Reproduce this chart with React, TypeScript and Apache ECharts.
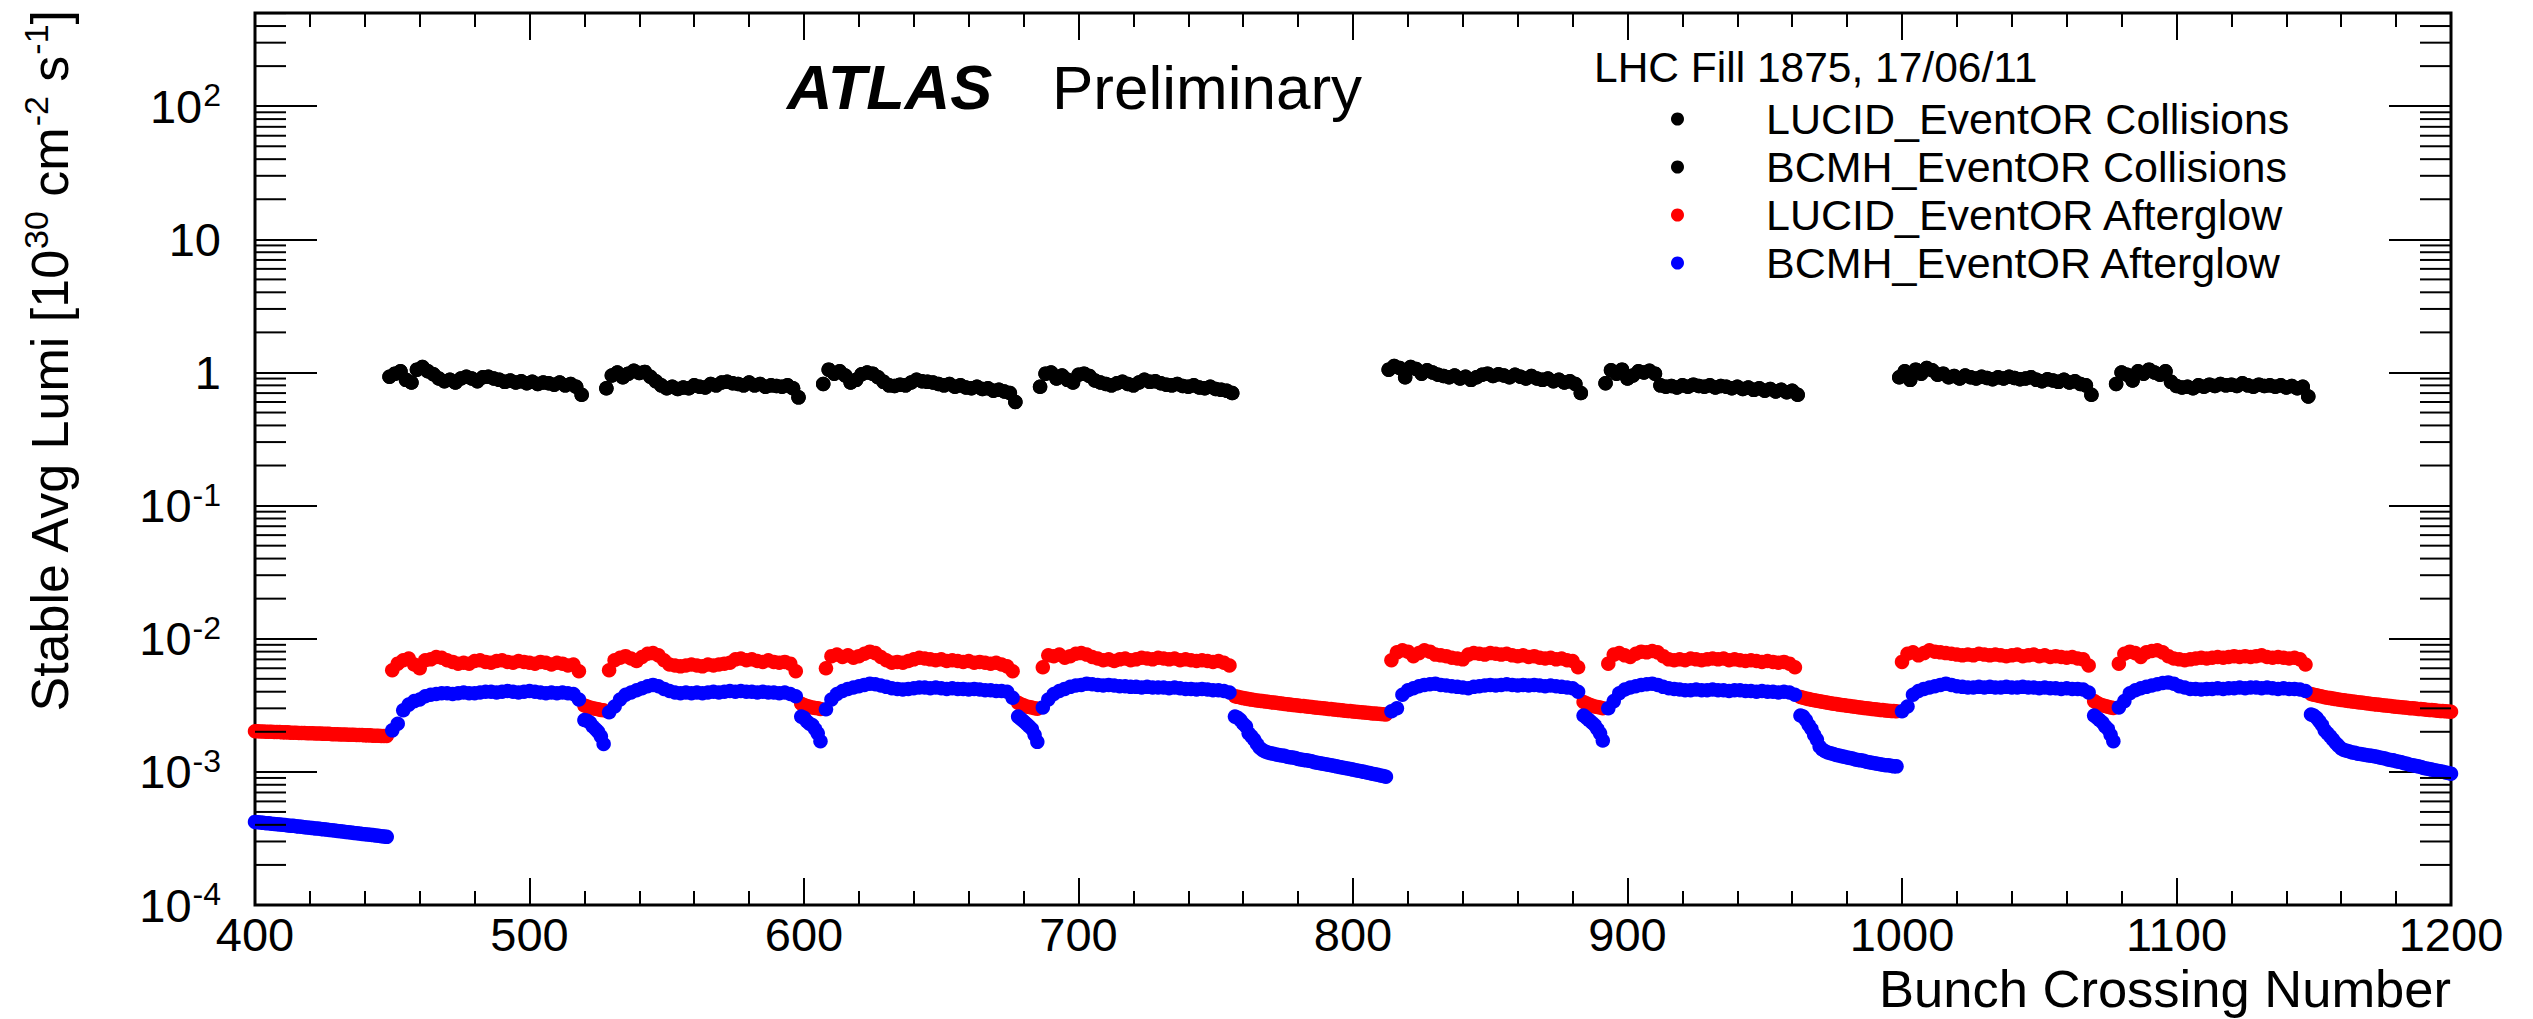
import React, { useEffect, useRef } from 'react';
import * as echarts from 'echarts';

const FONT = '"Liberation Sans", Arial, Helvetica, sans-serif';

// ---- axes ----
const X_MIN = 400;
const X_MAX = 1200;
const X_STEP = 100;
const Y_MIN = 1e-4;
const Y_MAX = 501.187;
const Y_MINOR_TICKS = [
  2e-4, 3e-4, 4e-4, 5e-4, 6e-4, 7e-4, 8e-4, 9e-4,
  2e-3, 3e-3, 4e-3, 5e-3, 6e-3, 7e-3, 8e-3, 9e-3,
  0.02, 0.03, 0.04, 0.05, 0.06, 0.07, 0.08, 0.09,
  0.2, 0.3, 0.4, 0.5, 0.6, 0.7, 0.8, 0.9,
  2, 3, 4, 5, 6, 7, 8, 9,
  20, 30, 40, 50, 60, 70, 80, 90,
  200, 300, 400, 500,
];

const SERIES_NAMES = [
  'LUCID_EventOR Collisions',
  'BCMH_EventOR Collisions',
  'LUCID_EventOR Afterglow',
  'BCMH_EventOR Afterglow',
];

// ---- filling scheme (BCID of first bunch of each 36-bunch train, 50 ns spacing) ----
const TRAIN_STARTS = [449, 528, 607, 686, 813, 892, 999, 1078];
const BUNCH_SPACING = 2;
// first BCID of each run of consecutive empty bunch crossings between trains
const GAP_STARTS = [400, 520, 599, 678, 757, 884, 963, 1070, 1149];

// ---- collisions (10^30 cm^-2 s^-1), one value per colliding bunch ----
const COLL_T1 = [0.93, 0.98, 1.02, 0.88, 0.84, 1.05, 1.10, 1.02, 0.97, 0.90, 0.86, 0.88, 0.84, 0.90, 0.93, 0.90, 0.86, 0.92, 0.93, 0.90, 0.88, 0.85, 0.87, 0.84, 0.86, 0.83, 0.85, 0.82, 0.84, 0.83, 0.81, 0.84, 0.80, 0.82, 0.78, 0.68];
const COLL_T2 = [0.76, 0.95, 1.00, 0.92, 0.98, 1.03, 0.99, 1.01, 0.93, 0.86, 0.80, 0.76, 0.78, 0.75, 0.77, 0.76, 0.80, 0.78, 0.77, 0.82, 0.80, 0.84, 0.85, 0.83, 0.82, 0.80, 0.84, 0.80, 0.82, 0.78, 0.80, 0.79, 0.78, 0.80, 0.76, 0.65];
const COLL_T3 = [0.82, 1.05, 0.98, 1.02, 0.95, 0.84, 0.88, 0.97, 1.00, 0.98, 0.92, 0.85, 0.80, 0.79, 0.81, 0.80, 0.84, 0.88, 0.86, 0.85, 0.84, 0.82, 0.80, 0.82, 0.78, 0.80, 0.77, 0.76, 0.78, 0.75, 0.76, 0.73, 0.74, 0.72, 0.70, 0.60];
const COLL_T4 = [0.78, 0.98, 1.00, 0.90, 0.95, 0.88, 0.84, 0.96, 0.98, 0.94, 0.87, 0.84, 0.82, 0.80, 0.83, 0.85, 0.82, 0.80, 0.84, 0.88, 0.85, 0.86, 0.83, 0.81, 0.80, 0.82, 0.79, 0.78, 0.80, 0.77, 0.76, 0.78, 0.75, 0.74, 0.73, 0.70];
const COLL_T5 = [1.05, 1.12, 1.08, 0.92, 1.10, 1.06, 0.98, 1.04, 1.00, 0.96, 0.94, 0.92, 0.95, 0.90, 0.93, 0.88, 0.92, 0.96, 0.98, 0.94, 0.97, 0.95, 0.92, 0.96, 0.93, 0.90, 0.94, 0.90, 0.88, 0.90, 0.86, 0.88, 0.84, 0.86, 0.82, 0.70];
const COLL_T6 = [0.83, 1.04, 0.98, 1.05, 0.90, 0.95, 1.02, 1.00, 1.03, 0.98, 0.80, 0.78, 0.79, 0.77, 0.80, 0.78, 0.81, 0.79, 0.78, 0.80, 0.77, 0.79, 0.78, 0.76, 0.78, 0.75, 0.77, 0.74, 0.76, 0.73, 0.75, 0.72, 0.74, 0.71, 0.73, 0.68];
const COLL_T7 = [0.92, 1.02, 0.88, 1.05, 0.98, 1.08, 1.04, 0.96, 0.98, 0.92, 0.94, 0.90, 0.95, 0.92, 0.90, 0.93, 0.91, 0.89, 0.92, 0.90, 0.93, 0.91, 0.89, 0.90, 0.92, 0.88, 0.86, 0.89, 0.87, 0.85, 0.88, 0.84, 0.86, 0.82, 0.80, 0.68];
const COLL_T8 = [0.82, 1.00, 0.96, 0.87, 1.02, 0.98, 1.05, 1.00, 0.96, 1.02, 0.85, 0.79, 0.77, 0.78, 0.76, 0.80, 0.78, 0.81, 0.79, 0.82, 0.80, 0.81, 0.79, 0.83, 0.80, 0.78, 0.81, 0.79, 0.80, 0.78, 0.80, 0.77, 0.79, 0.76, 0.78, 0.66];
const COLL_TRAINS = [COLL_T1, COLL_T2, COLL_T3, COLL_T4, COLL_T5, COLL_T6, COLL_T7, COLL_T8];

// ---- afterglow, in units of 1e-3 ----
const AFTERGLOW_UNIT = 1e-3;

// LUCID afterglow, empty crossings inside trains
const RED_T1 = [5.8, 6.5, 6.9, 7.1, 6.4, 6.0, 6.9, 7.0, 7.3, 7.2, 6.9, 6.7, 6.5, 6.6, 6.5, 6.8, 6.9, 6.7, 6.6, 6.8, 6.9, 6.7, 6.6, 6.8, 6.7, 6.6, 6.5, 6.7, 6.6, 6.4, 6.6, 6.5, 6.3, 6.4, 5.7];
const RED_T2 = [5.8, 6.9, 7.2, 7.4, 7.1, 6.8, 7.3, 7.7, 7.8, 7.5, 6.9, 6.4, 6.3, 6.2, 6.3, 6.4, 6.3, 6.2, 6.4, 6.3, 6.4, 6.5, 6.6, 7.0, 7.1, 6.9, 7.0, 6.8, 6.7, 6.9, 6.7, 6.6, 6.7, 6.5, 5.7];
const RED_T3 = [6.0, 7.4, 7.6, 7.3, 7.5, 7.2, 7.4, 7.7, 8.0, 7.8, 7.3, 6.9, 6.6, 6.7, 6.6, 6.8, 7.0, 7.2, 7.1, 7.0, 6.9, 7.0, 6.8, 6.9, 6.8, 6.7, 6.8, 6.6, 6.7, 6.6, 6.5, 6.6, 6.4, 6.2, 5.7];
const RED_T4 = [6.1, 7.5, 7.4, 7.6, 7.2, 7.4, 7.7, 7.8, 7.6, 7.3, 7.1, 6.9, 7.0, 6.8, 7.0, 7.1, 6.9, 7.0, 7.2, 7.1, 7.0, 7.2, 7.1, 7.0, 7.1, 6.9, 7.0, 6.9, 6.8, 6.9, 6.8, 6.7, 6.8, 6.6, 6.3];
const RED_T5 = [6.9, 7.9, 8.2, 8.0, 7.4, 7.8, 8.2, 8.0, 7.6, 7.5, 7.4, 7.2, 7.1, 7.0, 7.6, 7.8, 7.7, 7.6, 7.8, 7.7, 7.6, 7.7, 7.5, 7.4, 7.5, 7.3, 7.4, 7.2, 7.1, 7.2, 7.0, 7.1, 6.9, 6.8, 6.1];
const RED_T6 = [6.5, 7.6, 7.8, 7.5, 7.3, 7.7, 8.0, 7.9, 8.1, 7.9, 7.4, 7.0, 6.9, 7.0, 6.9, 7.1, 7.0, 6.9, 7.0, 7.1, 7.0, 7.1, 6.9, 7.0, 6.9, 6.8, 6.9, 6.8, 6.7, 6.8, 6.7, 6.6, 6.7, 6.5, 6.1];
const RED_T7 = [6.7, 7.7, 7.9, 7.5, 7.8, 8.2, 8.0, 7.9, 7.8, 7.7, 7.6, 7.5, 7.6, 7.5, 7.7, 7.6, 7.5, 7.6, 7.5, 7.4, 7.5, 7.6, 7.4, 7.5, 7.6, 7.4, 7.5, 7.3, 7.4, 7.3, 7.2, 7.3, 7.1, 7.0, 6.3];
const RED_T8 = [6.5, 7.7, 8.0, 7.8, 7.3, 7.9, 8.1, 8.2, 7.9, 7.4, 7.1, 7.0, 6.9, 7.0, 7.1, 7.2, 7.1, 7.2, 7.3, 7.2, 7.3, 7.4, 7.3, 7.4, 7.3, 7.4, 7.5, 7.3, 7.2, 7.3, 7.2, 7.1, 7.2, 7.0, 6.4];
const RED_TRAINS = [RED_T1, RED_T2, RED_T3, RED_T4, RED_T5, RED_T6, RED_T7, RED_T8];

// LUCID afterglow, gaps between trains
const RED_G0 = [2.02, 2.02, 2.01, 2.01, 2.00, 2.00, 2.00, 1.99, 1.99, 1.99, 1.98, 1.98, 1.98, 1.97, 1.97, 1.97, 1.96, 1.96, 1.96, 1.95, 1.95, 1.95, 1.94, 1.94, 1.94, 1.93, 1.93, 1.93, 1.92, 1.92, 1.92, 1.91, 1.91, 1.91, 1.90, 1.90, 1.90, 1.89, 1.89, 1.89, 1.88, 1.88, 1.88, 1.87, 1.87, 1.87, 1.86, 1.86, 1.86];
const RED_G1 = [3.15, 3.10, 3.05, 3.00, 2.98, 2.95, 2.92, 2.90];
const RED_G2 = [3.25, 3.18, 3.12, 3.08, 3.05, 3.02, 3.00, 2.97];
const RED_G3 = [3.30, 3.22, 3.16, 3.10, 3.07, 3.04, 3.01, 2.98];
const RED_G4 = [3.70, 3.66, 3.62, 3.58, 3.55, 3.52, 3.49, 3.46, 3.44, 3.42, 3.40, 3.38, 3.36, 3.34, 3.32, 3.30, 3.28, 3.26, 3.24, 3.22, 3.20, 3.18, 3.17, 3.15, 3.13, 3.12, 3.10, 3.08, 3.07, 3.05, 3.03, 3.02, 3.00, 2.99, 2.97, 2.96, 2.94, 2.93, 2.91, 2.90, 2.88, 2.87, 2.86, 2.84, 2.83, 2.82, 2.80, 2.79, 2.78, 2.77, 2.75, 2.74, 2.73, 2.72, 2.71, 2.70];
const RED_G5 = [3.35, 3.27, 3.20, 3.15, 3.10, 3.07, 3.04, 3.00];
const RED_G6 = [3.65, 3.60, 3.56, 3.52, 3.48, 3.45, 3.42, 3.39, 3.36, 3.33, 3.30, 3.28, 3.25, 3.23, 3.20, 3.18, 3.16, 3.14, 3.12, 3.10, 3.08, 3.06, 3.04, 3.02, 3.00, 2.99, 2.97, 2.95, 2.94, 2.92, 2.91, 2.89, 2.88, 2.87, 2.86, 2.85];
const RED_G7 = [3.40, 3.30, 3.22, 3.17, 3.12, 3.08, 3.05, 3.02];
const RED_G8 = [3.85, 3.80, 3.76, 3.72, 3.68, 3.64, 3.61, 3.58, 3.55, 3.52, 3.50, 3.47, 3.45, 3.42, 3.40, 3.38, 3.36, 3.34, 3.32, 3.30, 3.28, 3.26, 3.24, 3.22, 3.20, 3.19, 3.17, 3.15, 3.14, 3.12, 3.10, 3.09, 3.07, 3.06, 3.04, 3.03, 3.01, 3.00, 2.99, 2.97, 2.96, 2.95, 2.93, 2.92, 2.91, 2.90, 2.88, 2.87, 2.86, 2.85, 2.84, 2.83];
const RED_GAPS = [RED_G0, RED_G1, RED_G2, RED_G3, RED_G4, RED_G5, RED_G6, RED_G7, RED_G8];

// BCMH afterglow, empty crossings inside trains
const BLUE_T1 = [2.05, 2.3, 2.9, 3.2, 3.4, 3.5, 3.7, 3.8, 3.85, 3.9, 3.9, 3.85, 3.9, 3.95, 3.9, 3.9, 3.95, 4.0, 4.0, 3.95, 4.0, 4.05, 4.0, 3.95, 4.0, 4.05, 4.0, 3.95, 3.9, 3.95, 3.9, 3.95, 3.9, 3.85, 3.5];
const BLUE_T2 = [2.8, 3.1, 3.5, 3.8, 3.95, 4.1, 4.25, 4.4, 4.5, 4.4, 4.2, 4.05, 3.95, 3.9, 3.95, 3.9, 3.95, 3.9, 3.95, 4.0, 3.95, 4.0, 4.05, 4.0, 4.05, 4.0, 4.0, 3.95, 4.0, 3.95, 3.95, 3.9, 3.95, 3.85, 3.7];
const BLUE_T3 = [2.95, 3.5, 3.85, 4.05, 4.2, 4.3, 4.4, 4.5, 4.6, 4.55, 4.45, 4.35, 4.25, 4.2, 4.15, 4.2, 4.25, 4.3, 4.3, 4.25, 4.3, 4.25, 4.2, 4.25, 4.2, 4.2, 4.15, 4.2, 4.15, 4.1, 4.1, 4.05, 4.05, 4.0, 3.6];
const BLUE_T4 = [3.05, 3.5, 3.85, 4.05, 4.2, 4.35, 4.45, 4.5, 4.6, 4.55, 4.5, 4.45, 4.5, 4.45, 4.4, 4.4, 4.35, 4.35, 4.3, 4.35, 4.3, 4.3, 4.3, 4.25, 4.3, 4.25, 4.2, 4.2, 4.15, 4.2, 4.15, 4.1, 4.1, 4.05, 3.95];
const BLUE_T5 = [2.85, 3.0, 3.8, 4.1, 4.25, 4.4, 4.5, 4.55, 4.6, 4.5, 4.45, 4.4, 4.35, 4.3, 4.25, 4.35, 4.4, 4.45, 4.5, 4.45, 4.5, 4.55, 4.5, 4.45, 4.5, 4.45, 4.5, 4.45, 4.4, 4.45, 4.4, 4.35, 4.3, 4.25, 4.0];
const BLUE_T6 = [3.0, 3.4, 3.9, 4.15, 4.3, 4.4, 4.5, 4.55, 4.6, 4.5, 4.35, 4.25, 4.2, 4.15, 4.1, 4.1, 4.15, 4.1, 4.1, 4.15, 4.1, 4.1, 4.05, 4.1, 4.1, 4.05, 4.05, 4.0, 4.05, 4.0, 4.0, 3.95, 4.0, 3.95, 3.8];
const BLUE_T7 = [2.85, 3.1, 3.8, 4.05, 4.2, 4.3, 4.4, 4.5, 4.6, 4.5, 4.4, 4.35, 4.3, 4.3, 4.35, 4.3, 4.35, 4.3, 4.3, 4.35, 4.3, 4.3, 4.35, 4.3, 4.3, 4.25, 4.3, 4.25, 4.25, 4.2, 4.25, 4.2, 4.2, 4.15, 3.95];
const BLUE_T8 = [3.05, 3.4, 3.9, 4.1, 4.25, 4.35, 4.45, 4.55, 4.65, 4.7, 4.6, 4.4, 4.3, 4.2, 4.2, 4.15, 4.2, 4.2, 4.25, 4.2, 4.25, 4.25, 4.3, 4.25, 4.3, 4.3, 4.25, 4.3, 4.25, 4.2, 4.25, 4.2, 4.2, 4.15, 4.05];
const BLUE_TRAINS = [BLUE_T1, BLUE_T2, BLUE_T3, BLUE_T4, BLUE_T5, BLUE_T6, BLUE_T7, BLUE_T8];

// BCMH afterglow, gaps between trains
const BLUE_G0 = [0.421, 0.418, 0.417, 0.414, 0.412, 0.411, 0.408, 0.406, 0.405, 0.402, 0.400, 0.399, 0.396, 0.394, 0.393, 0.390, 0.388, 0.387, 0.384, 0.382, 0.381, 0.378, 0.376, 0.375, 0.372, 0.370, 0.369, 0.366, 0.364, 0.363, 0.360, 0.358, 0.357, 0.354, 0.352, 0.351, 0.348, 0.346, 0.345, 0.342, 0.340, 0.339, 0.337, 0.335, 0.333, 0.331, 0.329, 0.327, 0.325];
const BLUE_G1 = [2.45, 2.42, 2.35, 2.20, 2.10, 2.00, 1.85, 1.62];
const BLUE_G2 = [2.60, 2.55, 2.40, 2.30, 2.25, 2.10, 1.95, 1.70];
const BLUE_G3 = [2.60, 2.50, 2.40, 2.30, 2.20, 2.10, 1.90, 1.68];
const BLUE_G4 = [2.60, 2.55, 2.45, 2.30, 2.20, 1.95, 1.85, 1.75, 1.62, 1.52, 1.46, 1.42, 1.40, 1.38, 1.37, 1.35, 1.34, 1.33, 1.32, 1.30, 1.29, 1.28, 1.27, 1.25, 1.24, 1.23, 1.22, 1.21, 1.20, 1.18, 1.17, 1.16, 1.15, 1.14, 1.13, 1.12, 1.11, 1.10, 1.09, 1.08, 1.07, 1.06, 1.05, 1.04, 1.03, 1.02, 1.01, 1.00, 0.99, 0.98, 0.97, 0.96, 0.95, 0.94, 0.93, 0.92];
const BLUE_G5 = [2.65, 2.55, 2.45, 2.35, 2.25, 2.10, 1.95, 1.72];
const BLUE_G6 = [2.65, 2.60, 2.45, 2.25, 2.10, 1.90, 1.75, 1.55, 1.47, 1.43, 1.40, 1.38, 1.36, 1.34, 1.33, 1.31, 1.30, 1.28, 1.27, 1.26, 1.24, 1.23, 1.22, 1.21, 1.19, 1.18, 1.17, 1.16, 1.15, 1.14, 1.13, 1.12, 1.12, 1.11, 1.10, 1.10];
const BLUE_G7 = [2.65, 2.55, 2.45, 2.35, 2.20, 2.10, 1.90, 1.70];
const BLUE_G8 = [2.70, 2.65, 2.55, 2.40, 2.25, 2.05, 1.95, 1.85, 1.75, 1.65, 1.57, 1.50, 1.46, 1.44, 1.42, 1.40, 1.39, 1.37, 1.36, 1.35, 1.34, 1.33, 1.32, 1.31, 1.30, 1.28, 1.27, 1.26, 1.24, 1.23, 1.22, 1.20, 1.19, 1.18, 1.16, 1.15, 1.13, 1.12, 1.11, 1.10, 1.09, 1.07, 1.06, 1.05, 1.04, 1.03, 1.02, 1.01, 1.00, 0.99, 0.98, 0.97];
const BLUE_GAPS = [BLUE_G0, BLUE_G1, BLUE_G2, BLUE_G3, BLUE_G4, BLUE_G5, BLUE_G6, BLUE_G7, BLUE_G8];

// ---- build [BCID, value] pairs ----
function collisionPoints(): number[][] {
  const pts: number[][] = [];
  TRAIN_STARTS.forEach((s, t) => {
    COLL_TRAINS[t].forEach((v, k) => pts.push([s + BUNCH_SPACING * k, v]));
  });
  return pts;
}

function afterglowPoints(trains: number[][], gaps: number[][]): number[][] {
  const pts: number[][] = [];
  GAP_STARTS.forEach((g, i) => {
    gaps[i].forEach((v, k) => pts.push([g + k, v * AFTERGLOW_UNIT]));
  });
  TRAIN_STARTS.forEach((s, t) => {
    trains[t].forEach((v, k) => pts.push([s + 1 + BUNCH_SPACING * k, v * AFTERGLOW_UNIT]));
  });
  pts.sort((a, b) => a[0] - b[0]);
  return pts;
}

const COLORS = ['#000000', '#000000', '#ff0000', '#0000ff'];

function yLabel(v: number): string {
  const e = Math.log10(v);
  const r = Math.round(e);
  if (Math.abs(e - r) > 1e-6) return '';
  if (r === 0) return '{m|1}';
  if (r === 1) return '{m|10}';
  return '{m|10}{s|' + r + '}';
}

export default function App() {
  const ref = useRef<HTMLDivElement>(null);

  useEffect(() => {
    if (!ref.current) return;
    const chart = echarts.init(ref.current, null, { renderer: 'svg' });

    const coll = collisionPoints();
    const red = afterglowPoints(RED_TRAINS, RED_GAPS);
    const blue = afterglowPoints(BLUE_TRAINS, BLUE_GAPS);

    const tickLine = { color: '#000', width: 2 };

    const scatter = (name: string, data: number[][], color: string) => ({
      name,
      type: 'scatter',
      data,
      symbol: 'circle',
      symbolSize: 14.5,
      itemStyle: { color, opacity: 1 },
      clip: false,
      silent: true,
      emphasis: { disabled: true },
    });

    const option: any = {
      animation: false,
      backgroundColor: '#ffffff',
      grid: {
        left: 255,
        top: 13,
        width: 2196,
        height: 892,
        show: true,
        borderColor: '#000',
        borderWidth: 3,
        backgroundColor: 'transparent',
        containLabel: false,
        outerBoundsMode: 'none',
      },
      legend: {
        orient: 'vertical',
        left: 1671,
        top: 95,
        padding: 0,
        itemGap: 0,
        itemWidth: 13,
        itemHeight: 13,
        icon: 'circle',
        selectedMode: false,
        data: SERIES_NAMES,
        textStyle: {
          fontSize: 43,
          fontFamily: FONT,
          color: '#000',
          lineHeight: 48,
          padding: [0, 0, 0, 77],
        },
      },
      xAxis: [
        {
          type: 'value',
          position: 'bottom',
          min: X_MIN,
          max: X_MAX,
          interval: X_STEP,
          axisLine: { show: false },
          splitLine: { show: false },
          axisTick: { show: true, inside: true, length: 27, lineStyle: tickLine },
          minorTick: { show: true, splitNumber: 5, length: 14, lineStyle: tickLine },
          axisLabel: {
            fontSize: 47,
            lineHeight: 42,
            fontFamily: FONT,
            color: '#000',
            margin: 8,
            formatter: (v: number) => String(v),
          },
        },
        {
          type: 'value',
          position: 'top',
          min: X_MIN,
          max: X_MAX,
          interval: X_STEP,
          axisLine: { show: false },
          splitLine: { show: false },
          axisTick: { show: true, inside: true, length: 27, lineStyle: tickLine },
          minorTick: { show: true, splitNumber: 5, length: 14, lineStyle: tickLine },
          axisLabel: { show: false },
        },
      ],
      yAxis: [
        {
          type: 'log',
          logBase: 10,
          position: 'left',
          min: Y_MIN,
          max: Y_MAX,
          axisLine: { show: false },
          splitLine: { show: false },
          axisTick: { show: true, inside: true, length: 62, lineStyle: tickLine },
          axisLabel: {
            margin: 34,
            showMaxLabel: false,
            formatter: yLabel,
            rich: {
              m: { fontSize: 47, fontFamily: FONT, color: '#000' },
              s: { fontSize: 32, fontFamily: FONT, color: '#000', padding: [0, 0, 22, 1] },
            },
          },
        },
        {
          type: 'log',
          logBase: 10,
          position: 'right',
          min: Y_MIN,
          max: Y_MAX,
          axisLine: { show: false },
          splitLine: { show: false },
          axisTick: { show: true, inside: true, length: 62, lineStyle: tickLine },
          axisLabel: { show: false },
        },
      ],
      series: [
        scatter(SERIES_NAMES[0], coll, COLORS[0]),
        scatter(SERIES_NAMES[1], coll, COLORS[1]),
        scatter(SERIES_NAMES[2], red, COLORS[2]),
        scatter(SERIES_NAMES[3], blue, COLORS[3]),
        {
          type: 'custom',
          silent: true,
          clip: false,
          z: 5,
          xAxisIndex: 0,
          yAxisIndex: 0,
          data: Y_MINOR_TICKS.map((v) => [X_MIN, v]),
          encode: { x: 0, y: 1 },
          renderItem: (_p: any, api: any) => {
            const v = api.value(1);
            const l = api.coord([X_MIN, v]);
            const r = api.coord([X_MAX, v]);
            return {
              type: 'group',
              children: [
                { type: 'line', shape: { x1: l[0], y1: l[1], x2: l[0] + 31, y2: l[1] }, style: { stroke: '#000', lineWidth: 2 } },
                { type: 'line', shape: { x1: r[0], y1: r[1], x2: r[0] - 31, y2: r[1] }, style: { stroke: '#000', lineWidth: 2 } },
              ],
            };
          },
        },
      ],
      graphic: [
        {
          type: 'text',
          x: 787,
          y: 87,
          style: { text: 'ATLAS', fontSize: 63, fontWeight: 'bold', fontStyle: 'italic', fontFamily: FONT, fill: '#000', verticalAlign: 'middle' },
        },
        {
          type: 'text',
          x: 1052,
          y: 87,
          style: { text: 'Preliminary', fontSize: 62, fontFamily: FONT, fill: '#000', verticalAlign: 'middle' },
        },
        {
          type: 'text',
          x: 1594,
          y: 67,
          style: { text: 'LHC Fill 1875, 17/06/11', fontSize: 42.5, fontFamily: FONT, fill: '#000', verticalAlign: 'middle' },
        },
        {
          type: 'text',
          x: 2451,
          y: 988,
          style: { text: 'Bunch Crossing Number', fontSize: 52.5, lineHeight: 40, fontFamily: FONT, fill: '#000', align: 'right', verticalAlign: 'middle' },
        },
        {
          type: 'text',
          x: 50,
          y: 10,
          rotation: Math.PI / 2,
          style: {
            text: '{n|Stable Avg Lumi [10}{s|30}{n| cm}{s|-2}{n| s}{s|-1}{n|]}',
            align: 'right',
            verticalAlign: 'middle',
            rich: {
              n: { fontSize: 52, fontFamily: FONT, fill: '#000' },
              s: { fontSize: 34, fontFamily: FONT, fill: '#000', padding: [0, 0, 28, 1] },
            },
          },
        },
      ],
    };

    chart.setOption(option);
    return () => chart.dispose();
  }, []);

  return (
    <div
      ref={ref}
      style={{ position: 'absolute', left: 0, top: 0, width: 2533, height: 1019, background: '#fff' }}
    />
  );
}
